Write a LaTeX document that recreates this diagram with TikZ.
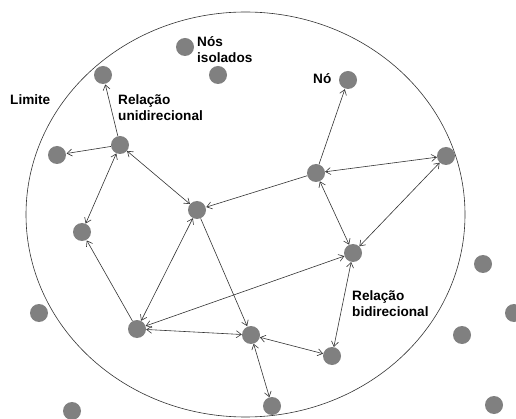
\documentclass[tikz,border=0pt]{standalone}
\usepackage{fontspec}
\setmainfont{Liberation Sans}
\usetikzlibrary{arrows.meta}

\begin{document}
\begin{tikzpicture}[x=1pt, y=-1pt,
  no/.style={circle, fill=black!50, inner sep=0pt, minimum size=18pt},
  uni/.style={-{Straight Barb[length=5pt, width=7pt]}, black!80, line width=0.6pt, shorten >=0.5pt},
  bi/.style={{Straight Barb[length=5pt, width=7pt]}-{Straight Barb[length=5pt, width=7pt]}, black!80, line width=0.6pt},
  rot/.style={font=\fontsize{13.6}{16}\selectfont\bfseries, align=left, inner sep=0pt, anchor=west}]

\useasboundingbox (0,0) rectangle (516,419);

%% limite
\draw[black!80, line width=0.6pt] (245.5,214.5) ellipse (219.5 and 202.5);

%% nós da rede
\node[no] (a) at (103,75) {};
\node[no] (b) at (120,145) {};
\node[no] (c) at (57,155) {};
\node[no] (d) at (82,232) {};
\node[no] (e) at (197,210) {};
\node[no] (f) at (316,173) {};
\node[no] (g) at (446,156) {};
\node[no] (h) at (353,253) {};
\node[no] (i) at (137,329) {};
\node[no] (j) at (251,335) {};
\node[no] (k) at (332,356) {};
\node[no] (l) at (272,406) {};
\node[no] (nn) at (348,80) {};

%% nós isolados
\node[no] (iso1) at (185,47) {};
\node[no] (iso2) at (218,75) {};
\node[no] (out1) at (39,313) {};
\node[no] (out2) at (72,411) {};
\node[no] (out3) at (483,264) {};
\node[no] (out4) at (514,313) {};
\node[no] (out5) at (462,335) {};
\node[no] (out6) at (494,405) {};

%% relações
\foreach \a/\b in {b/a, b/c, f/e, f/nn, i/d, e/j}{\draw[uni] (\a) -- (\b);}
\foreach \a/\b in {b/d, b/e, f/g, h/g, f/h, i/e, i/j, h/i, j/k, j/l, h/k}{\draw[bi] (\a) -- (\b);}

%% rótulos
\node[rot] (tlim) at (10,100) {Limite};
\node[rot] (tuni) at (118,108) {Relação\\unidirecional};
\node[rot] (tiso) at (197,50) {Nós\\isolados};
\node[rot] (tno) at (313,79) {Nó};
\node[rot] (tbi) at (352,303.5) {Relação\\bidirecional};
\end{tikzpicture}
\end{document}
